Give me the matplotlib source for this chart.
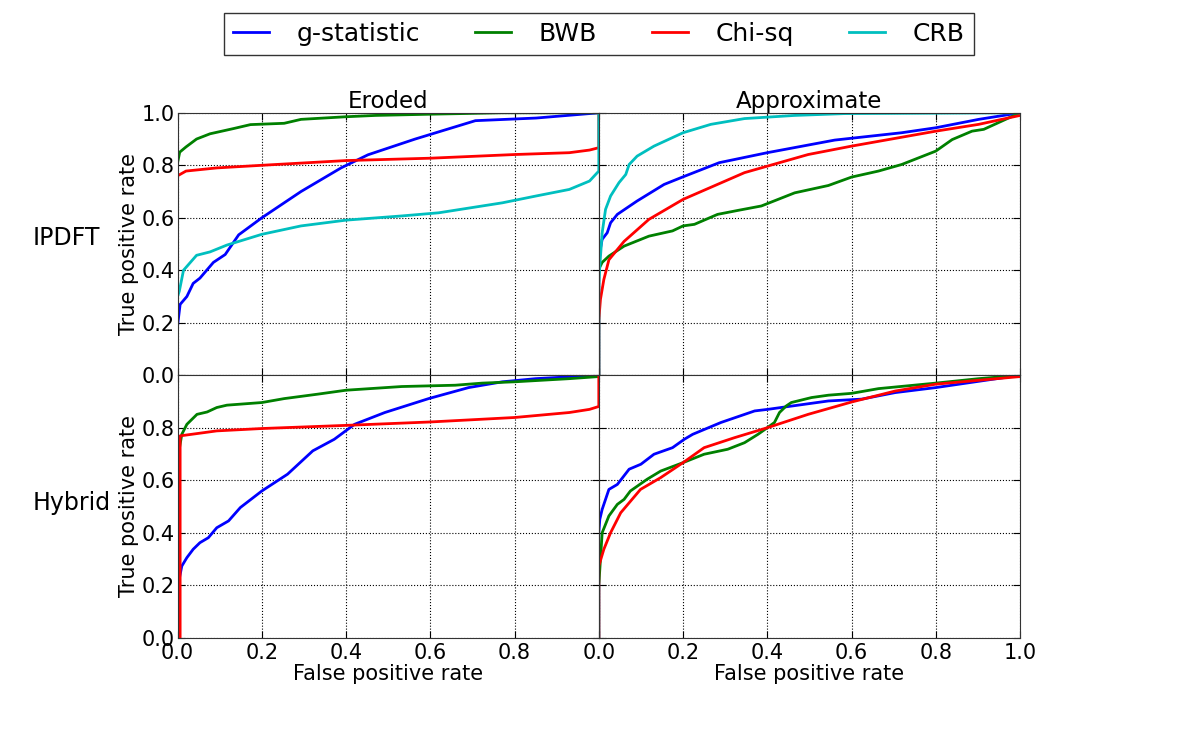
import matplotlib
matplotlib.use("Agg")
import matplotlib.pyplot as plt

# ROC curves
# top-left: Eroded / IPDFT
el_ip_g_x = [0, 0, 0.006, 0.022, 0.037, 0.053, 0.085, 0.113, 0.145, 0.2, 0.293, 0.388, 0.452, 0.564, 0.707, 0.851, 1.0]
el_ip_g_y = [0, 0.19, 0.27, 0.30, 0.35, 0.37, 0.43, 0.46, 0.535, 0.60, 0.70, 0.79, 0.84, 0.90, 0.97, 0.98, 1.0]
el_ip_b_x = [0, 0, 0.005, 0.02, 0.045, 0.077, 0.133, 0.173, 0.253, 0.293, 0.4, 0.47, 0.61, 0.77, 1.0]
el_ip_b_y = [0, 0.81, 0.85, 0.87, 0.90, 0.92, 0.94, 0.955, 0.96, 0.975, 0.985, 0.99, 0.995, 1.0, 1.0]
el_ip_c_x = [0, 0, 0.02, 0.093, 0.2, 0.4, 0.6, 0.8, 0.93, 0.978, 1.0, 1.0]
el_ip_c_y = [0, 0.76, 0.778, 0.79, 0.80, 0.818, 0.827, 0.841, 0.848, 0.858, 0.867, 1.0]
el_ip_r_x = [0, 0, 0.004, 0.014, 0.045, 0.077, 0.117, 0.2, 0.293, 0.4, 0.532, 0.62, 0.771, 0.851, 0.93, 0.978, 1.0, 1.0]
el_ip_r_y = [0, 0.30, 0.32, 0.40, 0.457, 0.47, 0.496, 0.537, 0.569, 0.591, 0.607, 0.619, 0.657, 0.683, 0.708, 0.74, 0.778, 1.0]

# top-right: Approximate / IPDFT
ap_ip_g_x = [0, 0, 0.008, 0.02, 0.028, 0.044, 0.091, 0.155, 0.2, 0.286, 0.4, 0.56, 0.719, 0.8, 0.902, 1.0]
ap_ip_g_y = [0, 0.45, 0.518, 0.543, 0.581, 0.613, 0.664, 0.727, 0.756, 0.81, 0.848, 0.896, 0.924, 0.943, 0.975, 1.0]
ap_ip_b_x = [0, 0, 0.008, 0.024, 0.06, 0.119, 0.175, 0.2, 0.227, 0.282, 0.33, 0.386, 0.465, 0.545, 0.6, 0.664, 0.719, 0.8, 0.839, 0.886, 0.914, 1.0]
ap_ip_b_y = [0, 0.404, 0.43, 0.454, 0.492, 0.53, 0.55, 0.569, 0.575, 0.613, 0.628, 0.645, 0.695, 0.723, 0.755, 0.778, 0.803, 0.854, 0.898, 0.93, 0.937, 1.0]
ap_ip_c_x = [0, 0, 0.004, 0.012, 0.024, 0.06, 0.119, 0.2, 0.346, 0.497, 0.6, 0.8, 0.902, 1.0]
ap_ip_c_y = [0, 0.21, 0.29, 0.365, 0.44, 0.51, 0.594, 0.67, 0.772, 0.841, 0.873, 0.93, 0.956, 0.99]
ap_ip_r_x = [0, 0, 0.0024, 0.008, 0.016, 0.028, 0.048, 0.064, 0.072, 0.091, 0.131, 0.2, 0.266, 0.346, 0.465, 0.584, 1.0]
ap_ip_r_y = [0, 0.35, 0.416, 0.543, 0.632, 0.683, 0.734, 0.765, 0.803, 0.835, 0.873, 0.924, 0.956, 0.978, 0.99, 0.997, 1.0]

# bottom-left: Eroded / Hybrid
el_hy_g_x = [0, 0.003, 0.01, 0.022, 0.037, 0.053, 0.073, 0.093, 0.121, 0.149, 0.2, 0.261, 0.321, 0.372, 0.42, 0.492, 0.596, 0.691, 0.771, 0.85, 1.0]
el_hy_g_y = [0, 0.216, 0.273, 0.305, 0.337, 0.362, 0.381, 0.419, 0.445, 0.496, 0.559, 0.623, 0.712, 0.756, 0.813, 0.858, 0.911, 0.953, 0.975, 0.987, 1.0]
el_hy_b_x = [0, 0, 0.004, 0.01, 0.022, 0.046, 0.07, 0.093, 0.117, 0.2, 0.253, 0.333, 0.4, 0.532, 0.659, 0.723, 0.8, 0.93, 1.0]
el_hy_b_y = [0, 0.70, 0.718, 0.775, 0.813, 0.851, 0.86, 0.877, 0.886, 0.896, 0.911, 0.928, 0.943, 0.957, 0.962, 0.97, 0.975, 0.987, 0.995]
el_hy_c_x = [0, 0.006, 0.006, 0.093, 0.2, 0.4, 0.6, 0.8, 0.93, 0.978, 1.0, 1.0]
el_hy_c_y = [0, 0, 0.769, 0.788, 0.797, 0.809, 0.822, 0.839, 0.858, 0.87, 0.881, 1.0]

# bottom-right: Approximate / Hybrid
ap_hy_g_x = [0, 0, 0.0024, 0.008, 0.024, 0.044, 0.072, 0.1, 0.131, 0.175, 0.203, 0.223, 0.29, 0.37, 0.401, 0.545, 0.624, 0.704, 0.8, 1.0]
ap_hy_g_y = [0, 0.40, 0.451, 0.489, 0.565, 0.584, 0.642, 0.661, 0.699, 0.724, 0.756, 0.775, 0.82, 0.864, 0.87, 0.902, 0.909, 0.934, 0.953, 1.0]
ap_hy_b_x = [0, 0, 0.0024, 0.008, 0.024, 0.044, 0.06, 0.075, 0.115, 0.147, 0.2, 0.25, 0.306, 0.346, 0.378, 0.4, 0.417, 0.429, 0.445, 0.457, 0.505, 0.545, 0.6, 0.664, 0.8, 0.902, 1.0]
ap_hy_b_y = [0, 0.20, 0.26, 0.40, 0.464, 0.508, 0.527, 0.559, 0.604, 0.635, 0.667, 0.699, 0.718, 0.743, 0.775, 0.80, 0.82, 0.858, 0.883, 0.896, 0.915, 0.924, 0.931, 0.949, 0.97, 0.987, 1.0]
ap_hy_c_x = [0, 0, 0.012, 0.028, 0.052, 0.099, 0.147, 0.2, 0.25, 0.322, 0.4, 0.497, 0.6, 0.704, 0.8, 1.0]
ap_hy_c_y = [0, 0.273, 0.337, 0.40, 0.476, 0.565, 0.61, 0.667, 0.724, 0.762, 0.80, 0.851, 0.898, 0.94, 0.966, 0.995]

methods = ["g-statistic", "BWB", "Chi-sq", "CRB"]
colors = ["b", "g", "r", "c"]
col_titles = ["Eroded", "Approximate"]
row_titles = ["IPDFT", "Hybrid"]

panels = [
    [[(el_ip_g_x, el_ip_g_y), (el_ip_b_x, el_ip_b_y), (el_ip_c_x, el_ip_c_y), (el_ip_r_x, el_ip_r_y)],
     [(ap_ip_g_x, ap_ip_g_y), (ap_ip_b_x, ap_ip_b_y), (ap_ip_c_x, ap_ip_c_y), (ap_ip_r_x, ap_ip_r_y)]],
    [[(el_hy_g_x, el_hy_g_y), (el_hy_b_x, el_hy_b_y), (el_hy_c_x, el_hy_c_y), None],
     [(ap_hy_g_x, ap_hy_g_y), (ap_hy_b_x, ap_hy_b_y), (ap_hy_c_x, ap_hy_c_y), None]],
]

fig, axes = plt.subplots(2, 2, figsize=(12, 7.52), dpi=100)
fig.subplots_adjust(left=0.148, right=0.85, top=0.85, bottom=0.152, wspace=0, hspace=0)

lines = []
for r in range(2):
    for c in range(2):
        ax = axes[r][c]
        for k, curve in enumerate(panels[r][c]):
            if curve is None:
                continue
            ln, = ax.plot(curve[0], curve[1], color=colors[k], lw=2, label=methods[k])
            if r == 0 and c == 0:
                lines.append(ln)
        ax.set_xlim(0, 1)
        ax.set_ylim(0, 1)
        ax.grid(True, linestyle=":", color="k", lw=0.8)
        ax.tick_params(direction="in", top=True, right=True, labelsize=15, length=5)
        ax.tick_params(axis="y", pad=2)
        ax.set_xticks([0, 0.2, 0.4, 0.6, 0.8, 1.0] if c == 1 else [0, 0.2, 0.4, 0.6, 0.8])
        ax.set_yticks([0, 0.2, 0.4, 0.6, 0.8, 1.0] if r == 0 else [0, 0.2, 0.4, 0.6, 0.8])
        if c == 1:
            ax.tick_params(labelleft=False)
        else:
            ax.set_ylabel("True positive rate", fontsize=15, labelpad=2)
        if r == 0:
            ax.tick_params(labelbottom=False)
            ax.set_title(col_titles[c], fontsize=16.5, pad=3)
        else:
            ax.set_xlabel("False positive rate", fontsize=15, labelpad=1)
        for s in ax.spines.values():
            s.set_color("#333333")

fig.text(0.0275, 0.683, row_titles[0], fontsize=17, ha="left", va="center")
fig.text(0.0275, 0.331, row_titles[1], fontsize=17, ha="left", va="center")

leg = fig.legend(lines, methods, loc="center", bbox_to_anchor=(0.499, 0.955), ncol=4,
                 fontsize=18, frameon=True, fancybox=False, handlelength=1.45,
                 handletextpad=1.1, columnspacing=2.2, borderpad=0.35, borderaxespad=0)
leg.get_frame().set_edgecolor("k")
leg.get_frame().set_linewidth(1.0)

fig.savefig("out.png", dpi=100, facecolor="white")
